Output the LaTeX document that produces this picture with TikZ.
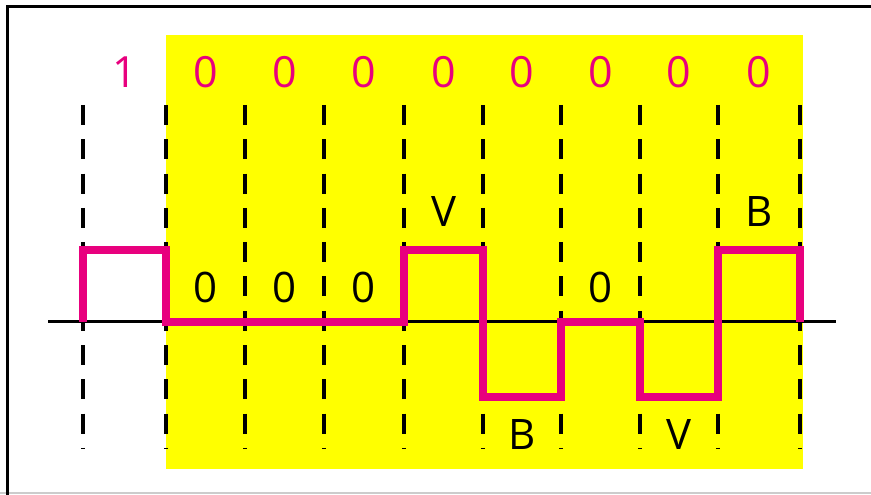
\documentclass[tikz,border=0pt]{standalone}
\usepackage{fontspec}
\newfontfamily\signfont{Open Sans}
\usepackage{tikz}
\usetikzlibrary{positioning, calc}

\definecolor{sigpink}{RGB}{232,0,126}
\definecolor{hiyellow}{RGB}{255,255,0}

\begin{document}
\begin{tikzpicture}[x=1pt, y=1pt, line width=3pt]
	\tikzstyle{bit} = [text=sigpink, font=\signfont\fontsize{43}{48}\selectfont, inner sep=0pt];
	\tikzstyle{code} = [text=black, font=\signfont\fontsize{42}{48}\selectfont, inner sep=0pt];
	\tikzstyle{slot} = [draw=black, line width=3.4pt, dash pattern=on 20pt off 14.3pt];
	\tikzstyle{signal} = [draw=sigpink, line width=7.5pt, line join=miter];
	
	\useasboundingbox (0,0) rectangle (871,495);
	
	% frame of the screenshot
	\draw[line width=2pt, black!20] (0,2) -- (871,2);
	\draw[line width=3pt] (7.5,0) -- (7.5,488.5) -- (871,488.5);
	
	% scrambled part
	\fill[hiyellow] (166,26) rectangle (803,460);
	
	\foreach \x [count=\s from 0] in {83,166,245,324,404,483,561,640,718,800}
	{
		\coordinate (t\s) at (\x,390);
		\coordinate (b\s) at (\x,46);
		\draw[slot] (t\s) -- (b\s);
	}
	
	% levels of the pulse
	\def \hi {245}
	\def \zr {173}
	\def \lo {98}
	
	\coordinate (axl) at (48,\zr);
	\coordinate (axr) at (836,\zr);
	\draw (axl) -- (axr);
	
	\draw[signal] (t0 |- 0,\zr) -- (t0 |- 0,\hi) -- (t1 |- 0,\hi) -- (t1 |- 0,\zr)
		-- (t4 |- 0,\zr) -- (t4 |- 0,\hi) -- (t5 |- 0,\hi) -- (t5 |- 0,\lo)
		-- (t6 |- 0,\lo) -- (t6 |- 0,\zr) -- (t7 |- 0,\zr) -- (t7 |- 0,\lo)
		-- (t8 |- 0,\lo) -- (t8 |- 0,\hi) -- (t9 |- 0,\hi) -- (t9 |- 0,\zr);
	
	% data bits
	\node[bit] (d0) at ($(t0)!0.5!(t1)+(0,33)$) {1};
	\foreach \s [evaluate=\s as \r using int(\s+1)] in {1,...,8}
	{
		\node[bit] (d\s) at ($(t\s)!0.5!(t\r)+(0,33)$) {0};
	}
	
	% substituted pattern
	\node[code] (z1) at ($(t1)!0.5!(t2)+(0,-182)$) {0};
	\node[code] (z2) at ($(t2)!0.5!(t3)+(0,-182)$) {0};
	\node[code] (z3) at ($(t3)!0.5!(t4)+(0,-182)$) {0};
	\node[code] (v1) at ($(t4)!0.5!(t5)+(0,-107)$) {V};
	\node[code] (s1) at ($(b5)!0.5!(b6)+(0,14)$) {B};
	\node[code] (z6) at ($(t6)!0.5!(t7)+(0,-182)$) {0};
	\node[code] (v2) at ($(b7)!0.5!(b8)+(0,14)$) {V};
	\node[code] (s2) at ($(t8)!0.5!(t9)+(0,-107)$) {B};
	
\end{tikzpicture}
\end{document}
